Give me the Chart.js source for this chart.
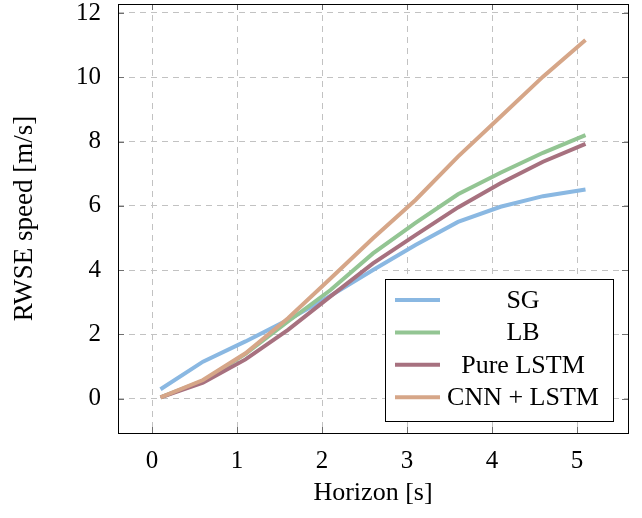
<!DOCTYPE html>
<html>
<head>
<meta charset="utf-8">
<script src="https://cdn.jsdelivr.net/npm/chart.js@4.4.1/dist/chart.umd.min.js"></script>
<style>
  html, body { margin: 0; padding: 0; background: #fff; }
  #wrap { width: 642px; height: 518px; }
</style>
</head>
<body>
<div id="wrap"><canvas id="chart"></canvas></div>
<script>
// horizon steps [s]
const horizon = [0.1, 0.6, 1.1, 1.6, 2.1, 2.6, 3.1, 3.6, 4.1, 4.6, 5.1];

// RWSE speed per method [m/s]
const sg       = [0.29, 1.15, 1.78, 2.45, 3.20, 4.00, 4.78, 5.50, 5.97, 6.30, 6.51];
const lb       = [0.04, 0.55, 1.39, 2.40, 3.38, 4.52, 5.47, 6.36, 7.03, 7.65, 8.20];
const pureLstm = [0.04, 0.50, 1.22, 2.14, 3.18, 4.21, 5.09, 5.95, 6.70, 7.37, 7.93];
const cnnLstm  = [0.04, 0.58, 1.41, 2.50, 3.74, 4.99, 6.18, 7.53, 8.77, 10.02, 11.16];

const labels = ['SG', 'LB', 'Pure LSTM', 'CNN + LSTM'];
const colors = ['#8ab8e2', '#93c593', '#a7717f', '#d6a688'];

const xTicks = [0, 1, 2, 3, 4, 5];
const yTicks = [0, 2, 4, 6, 8, 10, 12];

const serif = "'Liberation Serif', 'Times New Roman', serif";

function toPoints(values) {
    return horizon.map((h, i) => ({ x: h, y: values[i] }));
}

const series = [sg, lb, pureLstm, cnnLstm];
const datasets = series.map((vals, i) => ({
    label: labels[i],
    data: toPoints(vals),
    borderColor: colors[i],
    backgroundColor: colors[i],
    borderWidth: 4,
    pointRadius: 0,
    tension: 0,
    order: series.length - i   // later series on top, like pgfplots
}));

// frame, inner tick marks and the boxed legend
const framePlugin = {
    id: 'frame',
    afterDatasetsDraw(chart) {
        const { ctx, chartArea: a, scales } = chart;
        ctx.save();
        ctx.strokeStyle = '#6f6f6f';
        ctx.lineWidth = 1;
        const len = 6;
        xTicks.forEach(v => {
            const px = Math.round(scales.x.getPixelForValue(v)) + 0.5;
            ctx.beginPath();
            ctx.moveTo(px, a.bottom); ctx.lineTo(px, a.bottom - len);
            ctx.moveTo(px, a.top); ctx.lineTo(px, a.top + len);
            ctx.stroke();
        });
        yTicks.forEach(v => {
            const py = Math.round(scales.y.getPixelForValue(v)) + 0.5;
            ctx.beginPath();
            ctx.moveTo(a.left, py); ctx.lineTo(a.left + len, py);
            ctx.moveTo(a.right, py); ctx.lineTo(a.right - len, py);
            ctx.stroke();
        });
        ctx.strokeStyle = '#000';
        ctx.strokeRect(Math.round(a.left) + 0.5, Math.round(a.top) + 0.5,
            Math.round(a.right - a.left), Math.round(a.bottom - a.top));

        // legend box, lower right
        const bx = 385.5, by = 279.5, bw = 228, bh = 142;
        ctx.fillStyle = '#fff';
        ctx.fillRect(bx, by, bw, bh);
        ctx.strokeStyle = '#000';
        ctx.strokeRect(bx, by, bw, bh);
        ctx.font = '26px ' + serif;
        ctx.textAlign = 'center';
        ctx.textBaseline = 'middle';
        chart.data.datasets.forEach((ds, i) => {
            const y = 300 + i * 32.4;
            ctx.strokeStyle = ds.borderColor;
            ctx.lineWidth = 4;
            ctx.beginPath();
            ctx.moveTo(395, y); ctx.lineTo(440, y);
            ctx.stroke();
            ctx.fillStyle = '#000';
            ctx.fillText(ds.label, 523, y + 1);
        });
        ctx.restore();
    }
};

const gridOpts = {
    color: '#c2c2c2',
    lineWidth: 1,
    drawTicks: false
};

function noPad(s) {
    s.paddingTop = 0;
    s.paddingBottom = 0;
    s.paddingLeft = 0;
    s.paddingRight = 0;
}

new Chart(document.getElementById('chart'), {
    type: 'line',
    data: { datasets },
    options: {
        responsive: true,
        maintainAspectRatio: false,
        animation: false,
        layout: { autoPadding: false, padding: { left: 0, right: 14, top: 4, bottom: 0 } },
        plugins: {
            legend: { display: false },
            tooltip: { enabled: false }
        },
        scales: {
            x: {
                type: 'linear',
                min: -0.4,
                max: 5.6,
                afterBuildTicks: s => { s.ticks = xTicks.map(v => ({ value: v })); },
                afterFit: s => { s.height = 85; noPad(s); },
                grid: gridOpts,
                border: { display: false, dash: [6, 5] },
                ticks: {
                    color: '#000',
                    padding: 13,
                    font: { family: serif, size: 25 },
                    callback: v => String(v)
                },
                title: {
                    display: true,
                    text: 'Horizon [s]',
                    color: '#000',
                    font: { family: serif, size: 26 },
                    padding: { top: 0, bottom: 9 }
                }
            },
            y: {
                type: 'linear',
                min: -1.07,
                max: 12.28,
                afterBuildTicks: s => { s.ticks = yTicks.map(v => ({ value: v })); },
                afterFit: s => { s.width = 118; noPad(s); },
                grid: gridOpts,
                border: { display: false, dash: [6, 5] },
                ticks: {
                    color: '#000',
                    padding: 17,
                    font: { family: serif, size: 25 },
                    callback: v => String(v)
                },
                title: {
                    display: true,
                    text: 'RWSE speed [m/s]',
                    color: '#000',
                    font: { family: serif, size: 27 },
                    padding: { top: 9, bottom: 0 }
                }
            }
        }
    },
    plugins: [framePlugin]
});
</script>
</body>
</html>
